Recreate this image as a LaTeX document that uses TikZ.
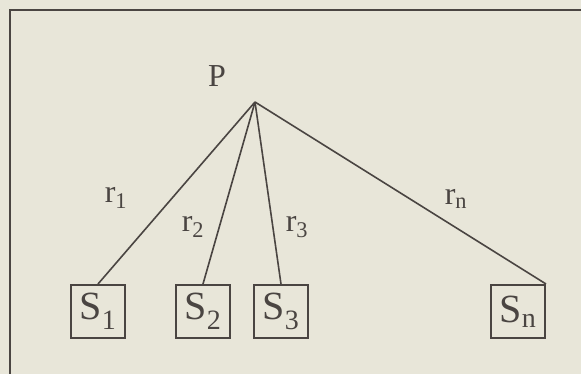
\documentclass[tikz,border=0pt]{standalone}
\usepackage{fontspec}
\setmainfont{Liberation Serif}
\usepackage{tikz}
\definecolor{paper}{HTML}{E8E6D9}
\definecolor{ink}{HTML}{4A4542}
\tikzset{
  srcbox/.style={draw=ink,line width=2pt,minimum width=54pt,minimum height=53pt,inner sep=0pt,font=\fontsize{40}{40}\selectfont,text=ink},
  ray/.style={draw=ink,line width=1.6pt},
  raylabel/.style={font=\fontsize{32}{32}\selectfont,text=ink,inner sep=0pt},
  every picture/.style={font=\fontsize{32}{32}\selectfont}
}

\begin{document}
\begin{tikzpicture}[x=1pt,y=-1pt]
  \useasboundingbox (0,0) rectangle (581,374);
  \fill[paper] (0,0) rectangle (581,374);
  \draw[ink,line width=2.5pt] (600,10)--(10,10)--(10,400);
  \coordinate (apex) at (255,102);
  \node[raylabel] (plabel) at (217,76) {P};
  \node[srcbox] (s1) at (98,311.5) {S\textsubscript{1}};
  \node[srcbox] (s2) at (203,311.5) {S\textsubscript{2}};
  \node[srcbox] (s3) at (281,311.5) {S\textsubscript{3}};
  \node[srcbox] (sn) at (518,311.5) {S\textsubscript{n}};
  \draw[ray] (apex)--(s1.north);
  \draw[ray] (apex)--(s2.north);
  \draw[ray] (apex)--(s3.north);
  \draw[ray] (apex)--(sn.north east);
  \node[raylabel] (r1) at (116,198) {r\textsubscript{1}};
  \node[raylabel] (r2) at (193,227) {r\textsubscript{2}};
  \node[raylabel] (r3) at (297,227) {r\textsubscript{3}};
  \node[raylabel] (rn) at (456,199) {r\textsubscript{n}};
\end{tikzpicture}
\end{document}
